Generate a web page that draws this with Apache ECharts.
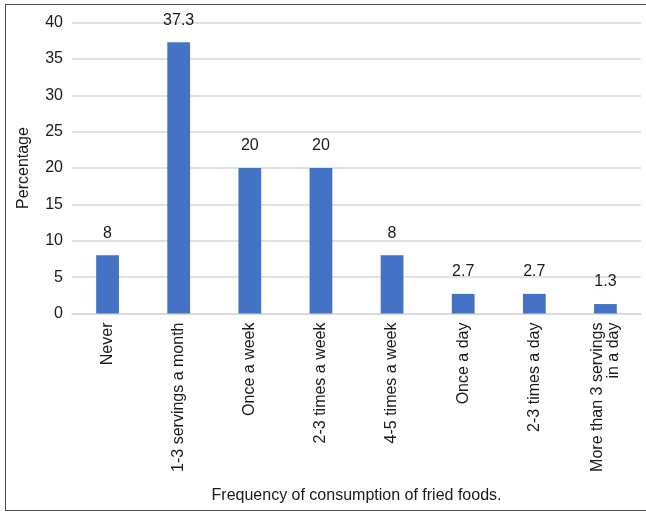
<!DOCTYPE html>
<html>
<head>
<meta charset="utf-8">
<script src="https://cdn.jsdelivr.net/npm/echarts@6/dist/echarts.min.js"></script>
<style>
  html, body { margin: 0; padding: 0; background: #fff; }
  #frame { position: absolute; left: 5px; top: 4px; width: 641px; height: 507px; border: 1.5px solid #505050; border-right: none; box-sizing: border-box; }
  #chart { position: absolute; left: 0; top: 0; width: 646px; height: 512px; }
</style>
</head>
<body>
<div id="frame"></div>
<div id="chart"></div>
<script>
// Frequency of fried-food consumption (percentage of respondents)
const categories = [
  'Never',
  '1-3 servings a month',
  'Once a week',
  '2-3 times a week',
  '4-5 times a week',
  'Once a day',
  '2-3 times a day',
  'More than 3 servings\nin a day'
];
const percentages = [8, 37.3, 20, 20, 8, 2.7, 2.7, 1.3];
const yTicks = { min: 0, max: 40, step: 5 };

const font = 'Liberation Sans, Arial, sans-serif';
const textColor = '#1a1a1a';
const chart = echarts.init(document.getElementById('chart'), null, { renderer: 'canvas' });
chart.setOption({
  animation: false,
  grid: { left: 72, right: 5, top: 22.5, bottom: 198.5, containLabel: false },
  xAxis: {
    type: 'category',
    data: categories,
    name: 'Frequency of consumption of fried foods.',
    nameLocation: 'middle',
    nameGap: 174,
    nameTextStyle: { fontFamily: font, fontSize: 16, color: textColor },
    axisLine: { lineStyle: { color: '#d9d9d9', width: 1.5 } },
    axisTick: { show: false },
    axisLabel: {
      rotate: 90,
      margin: 9,
      interval: 0,
      fontFamily: font,
      fontSize: 16,
      color: textColor,
      lineHeight: 16
    }
  },
  yAxis: {
    type: 'value',
    min: yTicks.min,
    max: yTicks.max,
    interval: yTicks.step,
    name: 'Percentage',
    nameLocation: 'middle',
    nameGap: 40,
    nameTextStyle: { fontFamily: font, fontSize: 16, color: textColor },
    axisLine: { show: false },
    axisTick: { show: false },
    axisLabel: { fontFamily: font, fontSize: 16, color: textColor, margin: 9 },
    splitLine: { lineStyle: { color: '#d9d9d9', width: 1.5 } }
  },
  series: [{
    type: 'bar',
    data: percentages,
    barWidth: '32%',
    itemStyle: { color: '#4472c4' },
    label: {
      show: true,
      position: 'top',
      distance: 14,
      fontFamily: font,
      fontSize: 16,
      color: textColor
    }
  }]
});
</script>
</body>
</html>
